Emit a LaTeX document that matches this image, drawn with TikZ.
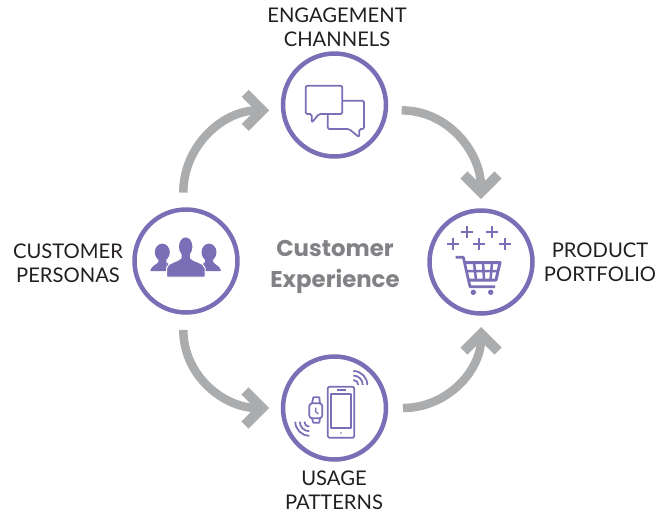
\documentclass[tikz,border=0pt]{standalone}
\usepackage{fontspec}
\setmainfont{Lato}
\newfontfamily\titlefont{Poppins}
\usetikzlibrary{arrows.meta}
\definecolor{ringpurple}{HTML}{7A6FB6}
\definecolor{flowgray}{HTML}{ABACAE}
\definecolor{titlegray}{HTML}{808285}
\definecolor{labelink}{HTML}{231F20}

\tikzset{
	hub/.style={circle, draw=ringpurple, line width=0.09cm, minimum size=2.06cm, inner sep=0pt, outer sep=0pt},
	flow/.style={draw=flowgray, line width=0.17cm, -{Straight Barb[length=0.34cm,width=0.68cm,line width=0.2cm]}},
	caption/.style={align=center, text=labelink, font=\fontsize{11.5}{13.6}\selectfont, inner sep=0pt},
	title/.style={align=center, text=titlegray, font=\titlefont\fontsize{13}{17.6}\selectfont\bfseries, inner sep=0pt},
	icon/.style={draw=ringpurple, line width=0.035cm, line join=round}
}

\begin{document}
\begin{tikzpicture}[x=0.02cm,y=-0.02cm]
	\useasboundingbox (0,0) rectangle (668,514);

	% Circles
	\node[hub] (channels) at (334.5,105) {};
	\node[hub] (personas) at (186,261) {};
	\node[hub] (portfolio) at (481,262) {};
	\node[hub] (patterns) at (334.5,408) {};

	% Arrows
	\draw[flow] ([yshift=0.34cm]personas.93) to[out=90,in=180] ([xshift=-0.28cm]channels.186);
	\draw[flow] ([xshift=0.32cm]channels.-6) to[out=0,in=90] ([yshift=0.23cm]portfolio.90);
	\draw[flow] ([xshift=0.34cm]patterns.0) to[out=0,in=-90] ([yshift=-0.27cm]portfolio.-90);
	\draw[flow] ([yshift=-0.35cm]personas.-93) to[out=-90,in=180] ([xshift=-0.28cm]patterns.180);

	% Labels
	\node[caption] (lblchannels) at (337,27) {ENGAGEMENT\\CHANNELS};
	\node[caption] (lblpersonas) at (68,263) {CUSTOMER\\PERSONAS};
	\node[caption] (lblportfolio) at (600,262) {PRODUCT\\PORTFOLIO};
	\node[caption] (lblpatterns) at (334,490) {USAGE\\PATTERNS};
	\node[title] (lblcenter) at (335,266.5) {Customer\\Experience};

	% Chat icon
	\draw[icon, rounded corners=0.03cm] (319,114) -- (311.7,122.7) -- (311.7,114) -- (305.7,114) -- (305.7,85.7) -- (342.3,85.7) -- (342.3,114) -- cycle;
	\draw[icon, rounded corners=0.03cm] (342.3,100.7) -- (364,100.7) -- (364,129) -- (359.3,129) -- (359.3,137.3) -- (349,129) -- (327.7,129) -- (327.7,114);

	% People icon
	\foreach \x/\d in {162.3/-1,209/1} {
		\fill[ringpurple] (\x,252.3) ellipse (7.5 and 8.7);
		\fill[ringpurple] (\x+\d*-4,256) -- (\x+\d*-4,262) -- (\x+\d*-4,271) -- (\x+\d*12,271) .. controls (\x+\d*11.5,266) and (\x+\d*6,265) .. (\x+\d*4,262) -- (\x+\d*4,256) -- cycle;
		\fill[ringpurple] (\x+\d*-4,262) -- (\x+\d*-9,267) -- (\x+\d*-9,271) -- (\x+\d*-4,271) -- cycle;
	}
	\fill[ringpurple, draw=white, line width=0.02cm] (181,252) -- (181,258) .. controls (178,262) and (168,262) .. (166.5,268) -- (166.5,277) -- (205,277) -- (205,268) .. controls (204,262) and (193,262) .. (190.5,258) -- (190.5,252) -- cycle;
	\fill[ringpurple] (185.7,246.7) ellipse (6.7 and 9.3);

	% Cart icon
	\foreach \x/\y in {467.3/232.3,492.3/232.3,453.3/244,479.3/244,505/244} {
		\draw[icon] (\x-6,\y) -- (\x+6,\y) (\x,\y-6) -- (\x,\y+6);
	}
	\draw[icon, line width=0.055cm] (455.7,257.3) -- (463.3,257.3) -- (470,286.7) -- (495,286.7);
	\draw[icon, line width=0.06cm] (464.5,262.5) -- (500,262.5) -- (496,280) -- (468.5,280);
	\draw[icon, line width=0.05cm] (466,271) -- (498,271) (474,262.5) -- (476,280) (483,262.5) -- (484,280) (492,262.5) -- (490.5,280);
	\fill[ringpurple] (473.3,292.3) circle (2.7) (490.7,292.3) circle (2.7);

	% Devices icon
	\draw[icon, rounded corners=0.03cm] (327.7,386.7) rectangle (354.3,437.7);
	\draw[icon] (331,394.3) rectangle (351,428.3);
	\draw[icon] (337,390) -- (345.7,390);
	\fill[ringpurple] (341,433) circle (0.9);
	\draw[icon, rounded corners=0.06cm] (309.3,403.3) rectangle (322.3,418.3);
	\draw[icon] (312,403.3) -- (313.3,397.3) -- (319.3,397.3) -- (320,403.3);
	\draw[icon] (312,418.3) -- (313.3,422.7) -- (319.3,422.7) -- (320,418.3);
	\draw[icon, line width=0.025cm] (315.7,407.5) -- (315.7,411.7) -- (318.3,414);
	\foreach \r in {5,9.5,14} {
		\draw[icon] (353.3+\r,385) arc[start angle=0, end angle=-90, radius=\r];
		\draw[icon] (309.3-\r,421.7) arc[start angle=180, end angle=90, radius=\r];
	}
\end{tikzpicture}
\end{document}
